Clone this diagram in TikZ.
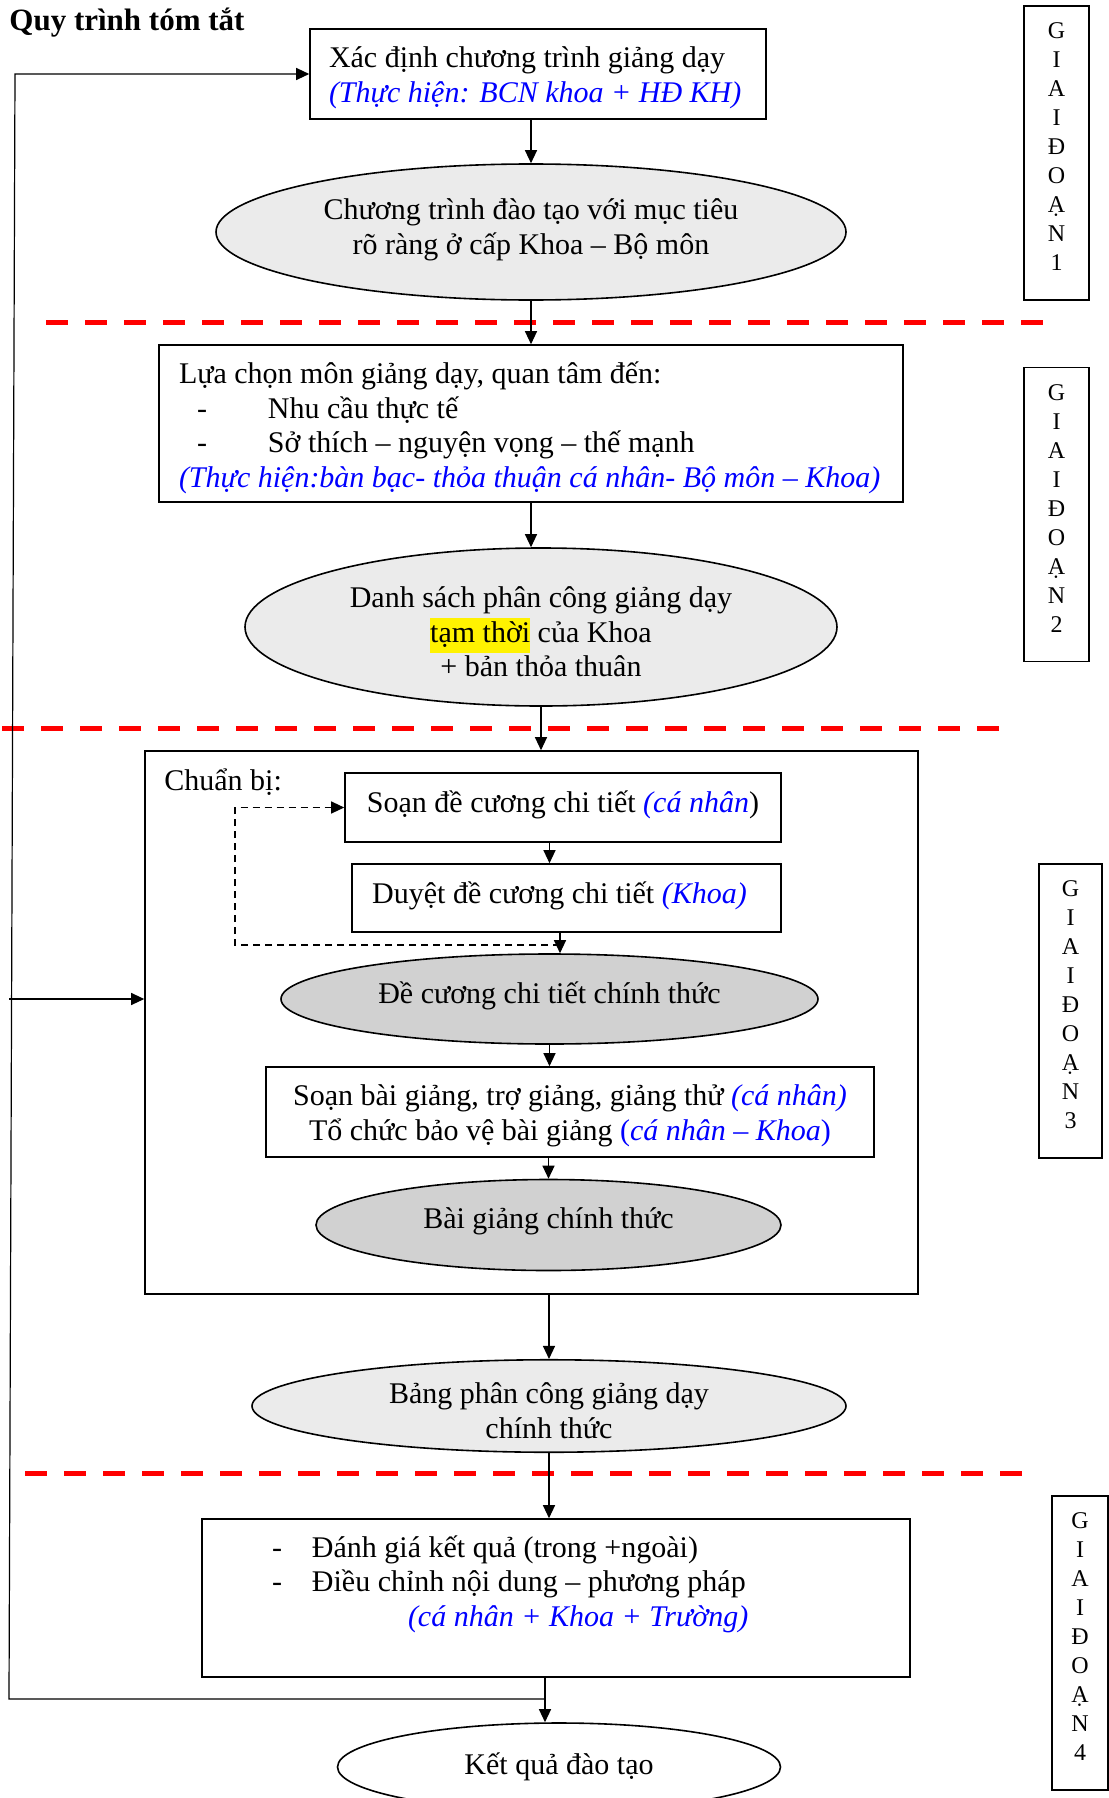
\documentclass[tikz,border=0pt]{standalone}
\usepackage{fontspec}
\setmainfont{Liberation Serif}
\usetikzlibrary{shapes.geometric,arrows.meta}

\newcommand{\xanh}[1]{{\color{blue}\itshape #1\/}}

\begin{document}
\begin{tikzpicture}[x=0.5pt, y=-0.5pt, font=\fontsize{15}{17.25}\selectfont,
    box/.style={draw, line width=0.8pt, inner xsep=6pt, inner ysep=3pt},
    oval/.style={draw, ellipse, line width=0.8pt, fill=black!8, inner sep=0pt, align=center},
    darkoval/.style={oval, fill=black!18},
    stage/.style={draw, line width=0.8pt, minimum width=32.5pt, minimum height=147pt, inner sep=0pt, align=center, font=\fontsize{12}{14.5}\selectfont},
    arr/.style={line width=0.6pt, -{Triangle[length=6.5pt, width=6pt]}},
    back/.style={arr, dash pattern=on 3.5pt off 2.5pt},
    redline/.style={red, line width=2.5pt, dash pattern=on 11pt off 8.5pt}]

    \useasboundingbox (0, 0) rectangle (1108, 1798);

    \draw [redline] (46, 322) -- (1046, 322);
    \draw [redline] (2, 728) -- (1007, 728);
    \draw [redline] (25, 1473) -- (1027, 1473);

    \node[anchor=base west, inner sep=0pt, font=\fontsize{15.5}{17.25}\selectfont\bfseries] (t) at (9, 31) {Quy trình tóm tắt};

    \node[box, minimum height=45pt, inner xsep=9.5pt, text width=209pt, align=flush left] (a) at (538, 74) {\rule{0pt}{14.1pt}Xác định chương trình giảng dạy\\ \mbox{\xanh{(Thực hiện: BCN khoa + HĐ KH)}}};
    \node[oval, minimum width=315pt, minimum height=68pt] (b) at (531, 232) {Chương trình đào tạo với mục tiêu\\ rõ ràng ở cấp Khoa – Bộ môn\rule[-5.6pt]{0pt}{0pt}};
    \node[box, minimum height=78.5pt, inner xsep=10pt, text width=352pt, align=flush left] (c) at (531, 423.5) {\rule{0pt}{15.3pt}Lựa chọn môn giảng dạy, quan tâm đến:\\ \hspace*{9pt}\makebox[35.5pt][l]{-}Nhu cầu thực tế\\ \hspace*{9pt}\makebox[35.5pt][l]{-}Sở thích – nguyện vọng – thế mạnh\\ \mbox{\xanh{(Thực hiện:bàn bạc- thỏa thuận cá nhân- Bộ môn – Khoa)}}};
    \node[oval, minimum width=296pt, minimum height=79pt] (d) at (541, 627) {\rule{0pt}{15.3pt}Danh sách phân công giảng dạy\\ {\setlength{\fboxsep}{0pt}\colorbox{yellow}{\strut tạm thời}} của Khoa\\ + bản thỏa thuân};

    \node[box, minimum width=386.5pt, minimum height=271.5pt] (f) at (531.5, 1022.5) {};
    \node[anchor=base west, inner sep=0pt] (g) at (164, 790) {Chuẩn bị:};
    \node[box, minimum width=218pt, minimum height=34.5pt, text depth=5.6pt] (h) at (563, 807.5) {Soạn đề cương chi tiết \xanh{(cá nhân})};
    \node[box, minimum width=214.5pt, minimum height=34pt, text depth=5.6pt] (i) at (566.5, 898) {Duyệt đề cương chi tiết \xanh{(Khoa)}\hspace*{7pt}};
    \node[darkoval, minimum width=268.5pt, minimum height=45pt, text depth=6.7pt] (j) at (549.5, 999) {Đề cương chi tiết chính thức};
    \node[box, minimum width=304pt, minimum height=45pt, align=center] (k) at (570, 1112) {\rule{0pt}{14.2pt}Soạn bài giảng, trợ giảng, giảng thử \xanh{(cá nhân)}\\ Tổ chức bảo vệ bài giảng {\color{blue}(\textit{cá nhân – Khoa\/})}};
    \node[darkoval, minimum width=232.5pt, minimum height=45.5pt, text depth=6.7pt] (l) at (548.5, 1225) {Bài giảng chính thức};

    \node[oval, minimum width=297pt, minimum height=45pt] (m) at (549, 1406) {\rule{0pt}{15.3pt}Bảng phân công giảng dạy\\ chính thức};
    \node[box, minimum height=79pt, inner xsep=35pt, text width=284pt, align=flush left] (n) at (556, 1598) {\makebox[20pt][l]{-}Đánh giá kết quả (trong +ngoài)\\ \makebox[20pt][l]{-}Điều chỉnh nội dung – phương pháp\\ \hspace*{68pt}\xanh{(cá nhân + Khoa + Trường)}\\ \mbox{}};
    \node[oval, fill=white, minimum width=221.5pt, minimum height=44pt] (o) at (559, 1767) {Kết quả đào tạo};

    \node[stage] (s1) at (1056.5, 153) {G\\ I\\ A\\ I\\ Đ\\ O\\ Ạ\\ N\\ 1\\[-8.5pt] \mbox{}};
    \node[stage] (s2) at (1056.5, 514.5) {G\\ I\\ A\\ I\\ Đ\\ O\\ Ạ\\ N\\ 2\\[-8.5pt] \mbox{}};
    \node[stage, minimum width=31.5pt] (s3) at (1070.5, 1011) {G\\ I\\ A\\ I\\ Đ\\ O\\ Ạ\\ N\\ 3\\[-8.5pt] \mbox{}};
    \node[stage, minimum width=28pt] (s4) at (1080, 1643) {G\\ I\\ A\\ I\\ Đ\\ O\\ Ạ\\ N\\ 4\\[-8.5pt] \mbox{}};

    \coordinate (p) at (560, 945);
    \coordinate (q) at (235, 945);
    \coordinate (r) at (545, 1699);
    \coordinate (u) at (9, 1699);
    \coordinate (v) at (15, 74);
    \coordinate (w) at (9, 999);

    \draw [arr] (b.north |- a.south) -- (b.north);
    \draw [arr] (b.south) -- (b.south |- c.north);
    \draw [arr] (c.south) -- (c.south |- d.north);
    \draw [arr] (d.south) -- (d.south |- f.north);
    \draw [arr] (j.north |- h.south) -- (j.north |- i.north);
    \draw [arr] (i.south -| p) -- (j.north -| p);
    \draw [back] (p) -- (q) |- (h.west);
    \draw [arr] (j.south) -- (j.south |- k.north);
    \draw [arr] (l.north |- k.south) -- (l.north);
    \draw [arr] (m.north |- f.south) -- (m.north);
    \draw [arr] (m.south) -- (m.south |- n.north);
    \draw [arr] (n.south -| r) -- (o.north -| r);
    \draw [arr] (r) -- (u) -- (v) -- (a.west);
    \draw [arr] (w) -- (w -| f.west);

\end{tikzpicture}
\end{document}
